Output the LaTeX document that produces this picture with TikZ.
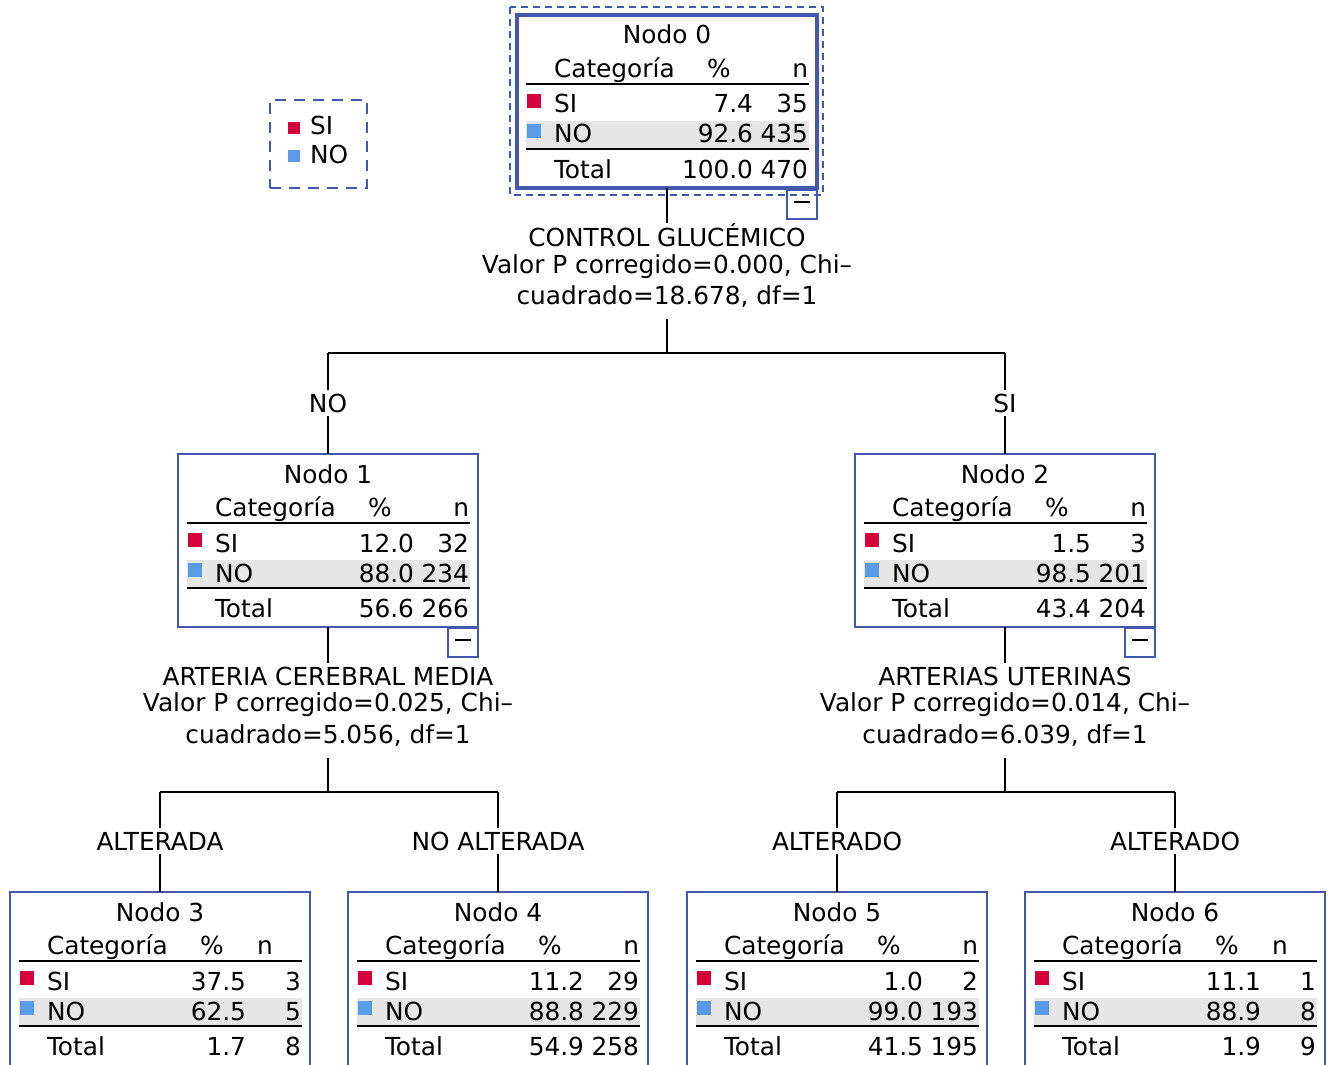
\documentclass[tikz,border=0pt]{standalone}
\usepackage{fontspec}
\setmainfont{DejaVu Sans}
\definecolor{tblue}{HTML}{4257AE}
\definecolor{sired}{HTML}{D6003B}
\definecolor{noblue}{HTML}{5A9BE8}
\definecolor{rowgray}{HTML}{E6E6E6}
\tikzset{
  rootbox/.style={draw=tblue, line width=2.2pt},
  plainbox/.style={draw=tblue, line width=1pt},
  leafbox/.style={draw=tblue, line width=1pt, minimum height=90pt},
  txt/.style={inner sep=0pt, outer sep=0pt},
  rulel/.style={draw=black, line width=1pt},
  conn/.style={draw=black, line width=1pt},
  brl/.style={inner sep=0pt, outer ysep=2pt, outer xsep=0pt, anchor=base},
  toggle/.style={draw=tblue, line width=1pt, minimum width=15pt, minimum height=14.5pt, inner sep=0pt, outer sep=0pt, anchor=north east},
  selbox/.style={draw=tblue, line width=1pt, dash pattern=on 3.5pt off 2.5pt},
  legbox/.style={draw=tblue, line width=1pt, dash pattern=on 5.5pt off 4pt, minimum width=48.5pt, minimum height=44pt, anchor=north west, inner sep=0pt, outer sep=0pt}
}
\begin{document}
\begin{tikzpicture}[x=0.5pt,y=-0.5pt, font=\fontsize{12.4}{15}\selectfont]
\useasboundingbox (0,0) rectangle (1336,1064);
% selection frame of root
\draw[selbox] (510,7) rectangle (823,195);
% legend
\node[legbox] (leg) at (270,100) {};
\fill[sired] (288,122) rectangle (300,134);
\node[txt, anchor=base west] (legsi) at (310,135) {SI};
\fill[noblue] (288,150) rectangle (300,162);
\node[txt, anchor=base west] (legno) at (310,163) {NO};
% tree nodes
\foreach \nm/\bx/\by/\num/\sp/\sn/\np/\nn/\tp/\tn/\nhx/\nha/\bs in {
  n0/517/15/0/7.4/35/92.6/435/100.0/470/291/base east/rootbox,
  n1/178/454/1/12.0/32/88.0/234/56.6/266/291/base east/plainbox,
  n2/855/454/2/1.5/3/98.5/201/43.4/204/291/base east/plainbox,
  n3/10/892/3/37.5/3/62.5/5/1.7/8/255/base/leafbox,
  n4/348/892/4/11.2/29/88.8/229/54.9/258/291/base east/leafbox,
  n5/687/892/5/1.0/2/99.0/193/41.5/195/291/base east/leafbox,
  n6/1025/892/6/11.1/1/88.9/8/1.9/9/255/base/leafbox}{
  \fill[rowgray] ({\bx+9},{\by+106}) rectangle ({\bx+292},{\by+134});
  \node[anchor=north west, minimum width=150pt, minimum height=86.5pt, inner sep=0pt, outer sep=0pt, \bs] (\nm) at (\bx,\by) {};
  \draw[rulel] ({\bx+9},{\by+69}) -- ({\bx+292},{\by+69});
  \draw[rulel] ({\bx+9},{\by+134}) -- ({\bx+292},{\by+134});
  \fill[sired] ({\bx+10},{\by+79}) rectangle ({\bx+24},{\by+93});
  \fill[noblue] ({\bx+10},{\by+109}) rectangle ({\bx+24},{\by+123});
  \node[txt, anchor=base] (\nm-t) at ({\bx+150},{\by+29}) {Nodo \num};
  \node[txt, anchor=base west] (\nm-hc) at ({\bx+37},{\by+62.5}) {Categoría};
  \node[txt, anchor=base] (\nm-hp) at ({\bx+202},{\by+62.5}) {\%};
  \node[txt, anchor=\nha] (\nm-hn) at ({\bx+\nhx},{\by+62.5}) {n};
  \node[txt, anchor=base west] (\nm-si) at ({\bx+37},{\by+98}) {SI};
  \node[txt, anchor=base east] (\nm-sp) at ({\bx+236},{\by+98}) {\sp};
  \node[txt, anchor=base east] (\nm-sn) at ({\bx+291},{\by+98}) {\sn};
  \node[txt, anchor=base west] (\nm-no) at ({\bx+37},{\by+128}) {NO};
  \node[txt, anchor=base east] (\nm-np) at ({\bx+236},{\by+128}) {\np};
  \node[txt, anchor=base east] (\nm-nn) at ({\bx+291},{\by+128}) {\nn};
  \node[txt, anchor=base west] (\nm-to) at ({\bx+37},{\by+163}) {Total};
  \node[txt, anchor=base east] (\nm-tp) at ({\bx+236},{\by+163}) {\tp};
  \node[txt, anchor=base east] (\nm-tn) at ({\bx+291},{\by+163}) {\tn};
}
% toggles
\node[toggle] (t0) at (817,190) {\rule[3pt]{8pt}{1pt}};
\node[toggle] (t1) at (478,628) {\rule[3pt]{8pt}{1pt}};
\node[toggle] (t2) at (1155,628) {\rule[3pt]{8pt}{1pt}};
% split labels
\node[txt, anchor=base] (s0a) at (667,246) {CONTROL GLUCÉMICO};
\node[txt, anchor=base] (s0b) at (667,273) {Valor P corregido=0.000, Chi–};
\node[txt, anchor=base] (s0c) at (667,304) {cuadrado=18.678, df=1};
\node[txt, anchor=base] (s1a) at (328,685) {ARTERIA CEREBRAL MEDIA};
\node[txt, anchor=base] (s1b) at (328,711) {Valor P corregido=0.025, Chi–};
\node[txt, anchor=base] (s1c) at (328,743) {cuadrado=5.056, df=1};
\node[txt, anchor=base] (s2a) at (1005,685) {ARTERIAS UTERINAS};
\node[txt, anchor=base] (s2b) at (1005,711) {Valor P corregido=0.014, Chi–};
\node[txt, anchor=base] (s2c) at (1005,743) {cuadrado=6.039, df=1};
% branch labels
\node[brl] (b1) at (328,412) {NO};
\node[brl] (b2) at (1005,412) {SI};
\node[brl] (b3) at (160,850) {ALTERADA};
\node[brl] (b4) at (498,850) {NO ALTERADA};
\node[brl] (b5) at (837,850) {ALTERADO};
\node[brl] (b6) at (1175,850) {ALTERADO};
% junctions
\coordinate (j0) at (667,353);
\coordinate (j1) at (328,353);
\coordinate (j2) at (1005,353);
\coordinate (k1) at (328,792);
\coordinate (k3) at (160,792);
\coordinate (k4) at (498,792);
\coordinate (k2) at (1005,792);
\coordinate (k5) at (837,792);
\coordinate (k6) at (1175,792);
% connectors
\draw[conn] (n0.south) -- (s0a.north);
\draw[conn] ([yshift=-6pt]s0c.south) -- (j0);
\draw[conn] (j1) -- (j2);
\draw[conn] (j1) -- (b1.north);
\draw[conn] (b1.south) -- (n1.north);
\draw[conn] (j2) -- (b2.north);
\draw[conn] (b2.south) -- (n2.north);
\draw[conn] (n1.south) -- ([yshift=2pt]s1a.north);
\draw[conn] ([yshift=-6pt]s1c.south) -- (k1);
\draw[conn] (k3) -- (k4);
\draw[conn] (k3) -- (b3.north);
\draw[conn] (b3.south) -- (n3.north);
\draw[conn] (k4) -- (b4.north);
\draw[conn] (b4.south) -- (n4.north);
\draw[conn] (n2.south) -- ([yshift=2pt]s2a.north);
\draw[conn] ([yshift=-6pt]s2c.south) -- (k2);
\draw[conn] (k5) -- (k6);
\draw[conn] (k5) -- (b5.north);
\draw[conn] (b5.south) -- (n5.north);
\draw[conn] (k6) -- (b6.north);
\draw[conn] (b6.south) -- (n6.north);
\end{tikzpicture}
\end{document}
